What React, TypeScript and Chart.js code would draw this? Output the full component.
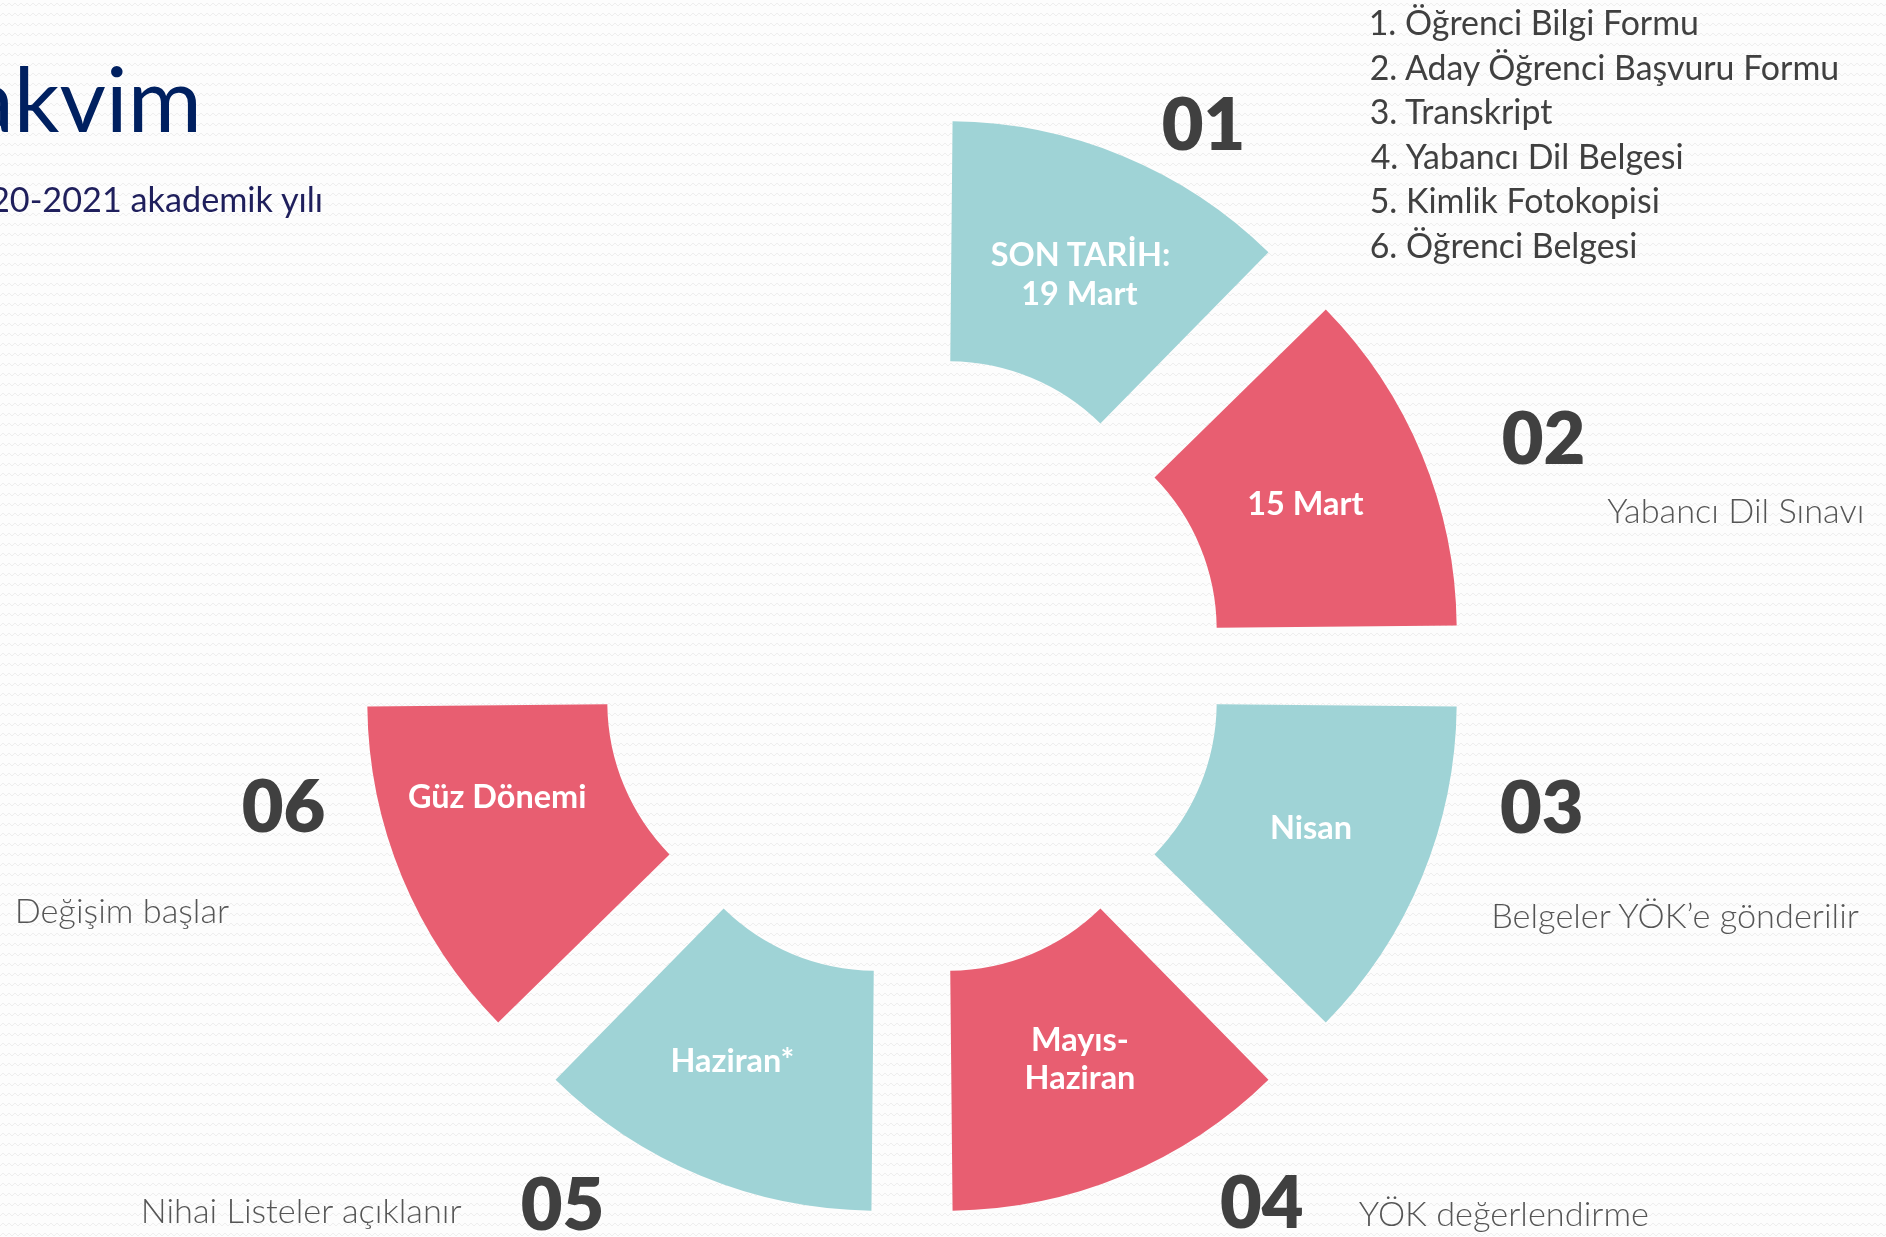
import React, { useEffect, useRef, useState } from 'react';
import { Chart, registerables } from 'chart.js';

Chart.register(...registerables);

// ---------------- data ----------------
const stageNumbers = ['01', '02', '03', '04', '05', '06'];
const stageDates: string[][] = [
  ['SON TARİH:', '19 Mart'],
  ['15 Mart'],
  ['Nisan'],
  ['Mayıs-', 'Haziran'],
  ['Haziran*'],
  ['Güz Dönemi'],
];
const stageDescriptions = [
  '',
  'Yabancı Dil Sınavı',
  'Belgeler YÖK’e gönderilir',
  'YÖK değerlendirme',
  'Nihai Listeler açıklanır',
  'Değişim başlar',
];
const stageWeights = [1, 1, 1, 1, 1, 1];
const emptyQuarterWeight = 2;
const requiredDocuments = [
  '1. Öğrenci Bilgi Formu',
  '2. Aday Öğrenci Başvuru Formu',
  '3. Transkript',
  '4. Yabancı Dil Belgesi',
  '5. Kimlik Fotokopisi',
  '6. Öğrenci Belgesi',
];
const titleText = 'Takvim';
const subtitleText = '2020-2021 akademik yılı';

// ---------------- styles / layout ----------------
const W = 1886;
const H = 1237;
const TEAL = '#9fd3d6';
const RED = '#e85e71';
const stageColors = [TEAL, RED, TEAL, RED, TEAL, RED];
const FONT = 'Lato, "Open Sans", sans-serif';
const CENTER = { x: 912, y: 666 };
const OFFSET_OPT = 378;
const RADIUS_EL = 429.7;
const CUTOUT = '44.15%';
const LABEL_R_SHIFT = -5;
const labelNudges = [[5, 2], [0, 0], [5, -2.5], [5, -2.5], [-15.6, 0], [-20.5, -33]];
const numberPos = [[1162.7, 150], [1502.7, 464], [1501, 832.7], [1221, 1228], [521.7, 1230], [242.7, 831.7]];
const descBoxes = [null, [1608.3, 1860.7, 523.3], [1496.7, 1858.3, 928.3], [1360, 1646.7, 1226], [142.7, 463.3, 1223.3], [16, 230.7, 923.3]];

let _ctx: CanvasRenderingContext2D | null = null;
function measure(text: string, weight: number, size: number) {
  if (!_ctx) _ctx = document.createElement('canvas').getContext('2d');
  const ctx = _ctx as CanvasRenderingContext2D;
  ctx.font = `${weight} ${size}px ${FONT}`;
  const m = ctx.measureText(text);
  return {
    l: -m.actualBoundingBoxLeft,
    r: m.actualBoundingBoxRight,
    asc: m.fontBoundingBoxAscent,
    desc: m.fontBoundingBoxDescent,
    top: m.actualBoundingBoxAscent,
  };
}
function fitSize(text: string, weight: number, width: number) {
  const m = measure(text, weight, 100);
  return (100 * width) / (m.r - m.l);
}

function TextAt(props: { text: string; weight: number; size: number; color: string; x: number; baseline: number }) {
  const m = measure(props.text, props.weight, props.size);
  return (
    <span
      style={{
        position: 'absolute',
        left: props.x,
        top: props.baseline - m.asc,
        fontFamily: FONT,
        fontWeight: props.weight,
        fontSize: props.size,
        lineHeight: `${m.asc + m.desc}px`,
        color: props.color,
        whiteSpace: 'pre',
      }}
    >
      {props.text}
    </span>
  );
}

const bgSvg =
  "<svg xmlns='http://www.w3.org/2000/svg' width='12' height='10'><path d='M0 6 L3 3 L6 6 L9 3 L12 6' fill='none' stroke='%23eeeeee' stroke-width='1'/></svg>";

export default function App() {
  const canvasRef = useRef<HTMLCanvasElement>(null);
  const [labelCenters, setLabelCenters] = useState<{ x: number; y: number }[]>([]);

  useEffect(() => {
    document.body.style.margin = '0';
    document.body.style.overflow = 'hidden';
    const canvas = canvasRef.current as HTMLCanvasElement;
    const chart = new Chart(canvas, {
      type: 'doughnut',
      data: {
        labels: [...stageNumbers, ''],
        datasets: [
          {
            data: [...stageWeights, emptyQuarterWeight],
            backgroundColor: [...stageColors, 'rgba(0,0,0,0)'],
            borderWidth: 0,
            offset: [...stageWeights.map(() => OFFSET_OPT), 0],
            hoverOffset: 0,
            clip: false,
          } as any,
        ],
      },
      options: {
        responsive: false,
        animation: false,
        events: [],
        radius: RADIUS_EL,
        cutout: CUTOUT,
        rotation: 0,
        circumference: 360,
        layout: {
          padding: { left: 0, right: W - 2 * CENTER.x, top: 2 * CENTER.y - H, bottom: 0 },
        },
        plugins: { legend: { display: false }, tooltip: { enabled: false } },
      } as any,
    });
    const meta = chart.getDatasetMeta(0);
    const t = OFFSET_OPT / 4;
    const centers = stageDates.map((_, i) => {
      const arc: any = meta.data[i];
      const half = (arc.startAngle + arc.endAngle) / 2;
      const fix = 1 - Math.sin(Math.min(Math.PI, arc.circumference));
      const r = (arc.innerRadius + arc.outerRadius) / 2 + t * fix + LABEL_R_SHIFT;
      return {
        x: arc.x + Math.cos(half) * (t + r) + labelNudges[i][0],
        y: arc.y + Math.sin(half) * (t + r) + labelNudges[i][1],
      };
    });
    setLabelCenters(centers);
    return () => chart.destroy();
  }, []);

  // font sizes fitted to the reference extents
  const titleSize = fitSize('kvim', 400, 176);
  const titleM = measure(titleText, 400, titleSize);
  const subSize = fitSize('akademik yılı', 400, 190);
  const subM = measure(subtitleText, 400, subSize);
  const listSize = fitSize(requiredDocuments[1], 400, 468);
  const numSize = fitSize('02', 800, 80);
  const descSizes = descBoxes
    .map((b, i) => (b ? fitSize(stageDescriptions[i], 300, b[1] - b[0]) : 0))
    .filter((v) => v > 0);
  const descSize = descSizes.reduce((a, b) => a + b, 0) / descSizes.length;
  const labelSize = fitSize('SON TARİH:', 700, 178.3);
  const labelGap = 38.3;
  const capH = measure('H', 700, labelSize).top;

  return (
    <div
      style={{
        position: 'absolute',
        left: 0,
        top: 0,
        width: W,
        height: H,
        overflow: 'hidden',
        backgroundColor: '#fdfdfd',
        backgroundImage: `url("data:image/svg+xml;utf8,${bgSvg}")`,
      }}
    >
      <canvas ref={canvasRef} width={W} height={H} style={{ position: 'absolute', left: 0, top: 0, width: W, height: H }} />

      <TextAt text={titleText} weight={400} size={titleSize} color="#002060" x={196.7 - titleM.r} baseline={131.7} />
      <TextAt text={subtitleText} weight={400} size={subSize} color="#1f1f5c" x={321.7 - subM.r} baseline={211.7} />

      {requiredDocuments.map((d, i) => {
        const m = measure(d, 400, listSize);
        return <TextAt key={'doc' + i} text={d} weight={400} size={listSize} color="#404040" x={1370.7 - m.l} baseline={35 + 44.6 * i} />;
      })}

      {stageNumbers.map((n, i) => {
        const m = measure(n, 800, numSize);
        return <TextAt key={'num' + i} text={n} weight={800} size={numSize} color="#404040" x={numberPos[i][0] - m.l} baseline={numberPos[i][1]} />;
      })}

      {stageDescriptions.map((d, i) => {
        const b = descBoxes[i];
        if (!b || !d) return null;
        const m = measure(d, 300, descSize);
        const cx = (b[0] + b[1]) / 2;
        return <TextAt key={'desc' + i} text={d} weight={300} size={descSize} color="#555555" x={cx - (m.l + m.r) / 2} baseline={b[2]} />;
      })}

      {labelCenters.map((c, i) =>
        stageDates[i].map((line, j) => {
          const n = stageDates[i].length;
          const m = measure(line, 700, labelSize);
          const baseline = c.y - ((n - 1) * labelGap) / 2 + capH / 2 + j * labelGap;
          return (
            <TextAt key={`lab${i}-${j}`} text={line} weight={700} size={labelSize} color="#ffffff" x={c.x - (m.l + m.r) / 2} baseline={baseline} />
          );
        })
      )}
    </div>
  );
}
